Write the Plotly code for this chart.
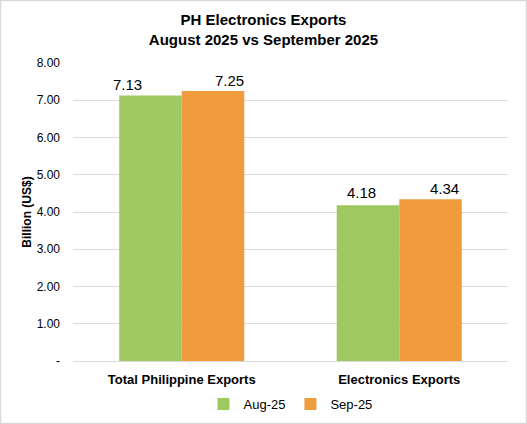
import plotly.graph_objects as go

categories = ["Total Philippine Exports", "Electronics Exports"]
aug_25 = [7.13, 4.18]
sep_25 = [7.25, 4.34]
y_ticks = [0, 1, 2, 3, 4, 5, 6, 7, 8]
y_tick_labels = ["-", "1.00", "2.00", "3.00", "4.00", "5.00", "6.00", "7.00", "8.00"]

W, H = 527, 424
ml, mr, mt, mb = 73, 19, 63, 63
pw, ph = W - ml - mr, H - mt - mb

fig = go.Figure()
fig.add_trace(go.Bar(x=categories, y=aug_25, name="Aug-25",
                     marker_color="#9FC960", marker_line_width=0))
fig.add_trace(go.Bar(x=categories, y=sep_25, name="Sep-25",
                     marker_color="#EF9B3E", marker_line_width=0))

# value labels sit a bit off-centre in the original, so place them by hand (pixel shifts)
label_shift_x = {"Aug-25": [-54, -38], "Sep-25": [48, 45]}
label_shift_y = {"Aug-25": [0, 2], "Sep-25": [0, 0]}
for name, vals in (("Aug-25", aug_25), ("Sep-25", sep_25)):
    for i, (cat, v) in enumerate(zip(categories, vals)):
        fig.add_annotation(x=cat, y=v, text=f"{v:.2f}", showarrow=False,
                           xanchor="center", yanchor="bottom",
                           xshift=label_shift_x[name][i], yshift=label_shift_y[name][i],
                           font=dict(size=15, color="#000"))

fig.update_layout(
    width=W, height=H,
    margin=dict(l=ml, r=mr, t=mt, b=mb, autoexpand=False),
    font=dict(family="Liberation Sans, Arial", color="#000"),
    paper_bgcolor="white", plot_bgcolor="white",
    barmode="group", bargap=0.425, bargroupgap=0,
    title=dict(text="<b>PH Electronics Exports<br>August 2025 vs September 2025</b>",
               x=0.5, xanchor="center", y=1 - 25 / H, yanchor="middle",
               font=dict(size=15)),
    legend=dict(orientation="h", x=0.5, xanchor="center", y=-28 / ph, yanchor="top",
                font=dict(size=13), traceorder="normal", itemwidth=30),
)
fig.update_xaxes(tickfont=dict(size=13), automargin=False,
                 tickprefix="<b>", ticksuffix="</b>", showline=False,
                 ticklabelstandoff=9)
fig.update_yaxes(range=[0, 8], tickvals=y_ticks, ticktext=y_tick_labels,
                 tickfont=dict(size=12), gridcolor="#D9D9D9", gridwidth=1,
                 zeroline=True, zerolinecolor="#D9D9D9", zerolinewidth=1,
                 ticklabelstandoff=12, automargin=False,
                 title=dict(text="<b>Billion (US$)</b>", font=dict(size=12), standoff=2))

# thin border around the whole chart
fig.add_shape(type="rect", xref="paper", yref="paper",
              x0=(0.5 - ml) / pw, x1=(W - 0.5 - ml) / pw,
              y0=-(mb - 0.5) / ph, y1=(H - mb - 0.5) / ph,
              line=dict(color="#D9D9D9", width=1.5), layer="below")

# page body has a default 8px margin; drop it so the chart sits at the corner
fig.write_html("out.html", config={"displayModeBar": False},
               post_script="document.body.style.margin='0';document.body.style.overflow='hidden';")
